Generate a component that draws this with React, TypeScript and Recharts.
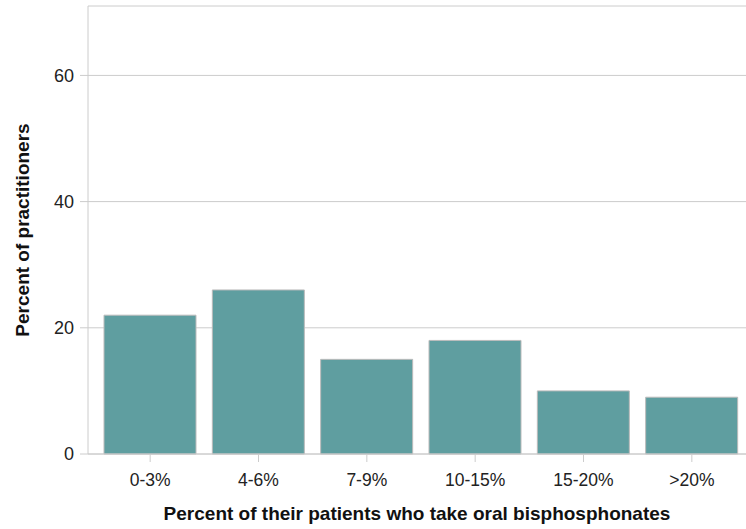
import { BarChart, Bar, XAxis, YAxis, CartesianGrid, Label } from 'recharts'

const categories = ['0-3%', '4-6%', '7-9%', '10-15%', '15-20%', '>20%']
const practitioners = [22, 26, 15, 18, 10, 9]
const yTicks = [0, 20, 40, 60]

const data = categories.map((name, i) => ({ name, value: practitioners[i] }))

const FONT = '"Liberation Sans", Arial, Helvetica, sans-serif'
const GRID = '#cccccc'

export default function App() {
  return (
    <div style={{ position: 'absolute', left: 0, top: 0, width: 746, height: 529, background: '#fff' }}>
      <BarChart
        width={746}
        height={529}
        data={data}
        margin={{ top: 6, right: 0, left: 0, bottom: 0 }}
        barSize={92}
        style={{ fontFamily: FONT }}
      >
        <CartesianGrid vertical={false} stroke={GRID} />
        <XAxis
          dataKey="name"
          height={75}
          padding={{ left: 8, right: 0 }}
          stroke={GRID}
          tickSize={8}
          tick={{ fill: '#222', fontSize: 17.5, dy: 10 }}
        >
          <Label
            value="Percent of their patients who take oral bisphosphonates"
            position="insideBottom"
            offset={9}
            style={{ fill: '#111', fontSize: 19, fontWeight: 'bold' }}
          />
        </XAxis>
        <YAxis
          width={88}
          domain={[0, 71]}
          ticks={yTicks}
          interval={0}
          stroke={GRID}
          tickSize={8}
          tick={{ fill: '#222', fontSize: 18, dx: -4 }}
        >
          <Label
            value="Percent of practitioners"
            angle={-90}
            position="insideLeft"
            offset={22}
            style={{ textAnchor: 'middle', fill: '#111', fontSize: 19, fontWeight: 'bold' }}
          />
        </YAxis>
        <Bar dataKey="value" fill="#5f9ea0" stroke="#bbbbbb" strokeWidth={1} isAnimationActive={false} />
      </BarChart>
    </div>
  )
}
